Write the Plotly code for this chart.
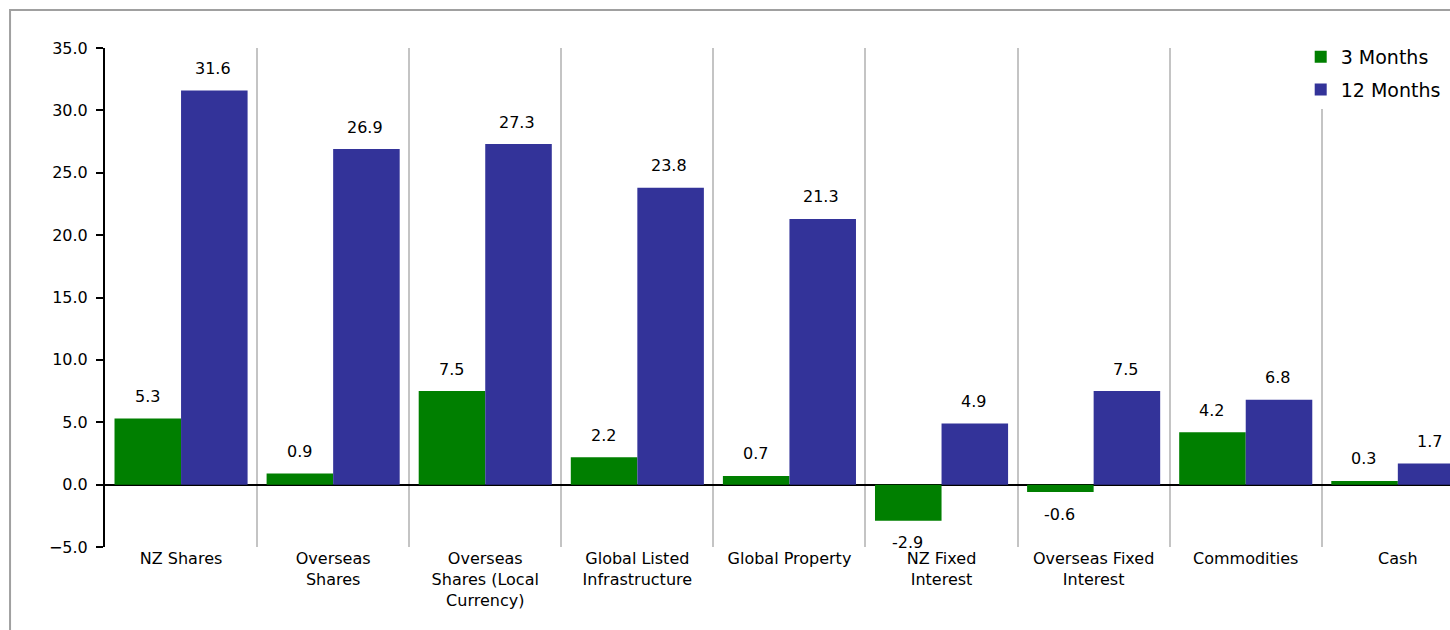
import plotly.graph_objects as go

categories = ["NZ Shares", "Overseas<br>Shares", "Overseas<br>Shares (Local<br>Currency)",
              "Global Listed<br>Infrastructure", "Global Property", "NZ Fixed<br>Interest",
              "Overseas Fixed<br>Interest", "Commodities", "Cash"]
three_months = [5.3, 0.9, 7.5, 2.2, 0.7, -2.9, -0.6, 4.2, 0.3]
twelve_months = [31.6, 26.9, 27.3, 23.8, 21.3, 4.9, 7.5, 6.8, 1.7]
series_names = ["3 Months", "12 Months"]
y_ticks = [-5, 0, 5, 10, 15, 20, 25, 30, 35]

GREEN = "#007F00"
BLUE = "#333399"
FONT = "DejaVu Sans, Liberation Sans, Arial, sans-serif"

fig = go.Figure()
fig.add_trace(go.Bar(x=categories, y=three_months, name=series_names[0], legendgroup="a",
                     marker=dict(color=GREEN, line=dict(width=0))))
fig.add_trace(go.Bar(x=categories, y=twelve_months, name=series_names[1], legendgroup="b",
                     marker=dict(color=BLUE, line=dict(width=0))))

annotations = []
for vals, shift in ((three_months, -34), (twelve_months, 32)):
    for c, v in zip(categories, vals):
        annotations.append(dict(x=c, y=v, xref="x", yref="y", text=f"{v:.1f}",
                                showarrow=False, xshift=shift,
                                yshift=22 if v >= 0 else -22,
                                font=dict(size=16, color="black", family=FONT)))

fig.update_layout(
    width=1450, height=630,
    margin=dict(l=105, r=0, t=48, b=83, autoexpand=False),
    paper_bgcolor="white", plot_bgcolor="white",
    barmode="group", bargap=0.125, bargroupgap=0,
    font=dict(family=FONT, size=16, color="black"),
    showlegend=True,
    legend=dict(x=0.889, y=1.020, xanchor="left", yanchor="top",
                bgcolor="white", font=dict(size=19, color="black", family=FONT),
                itemwidth=30, tracegroupgap=5, groupclick="toggleitem"),
    annotations=annotations,
    shapes=[dict(type="rect", xref="paper", yref="paper",
                 x0=-0.0706, x1=1.2, y0=-0.3, y1=1.076,
                 line=dict(color="#A0A0A0", width=2), fillcolor="rgba(0,0,0,0)",
                 layer="below")],
)
fig.update_xaxes(type="category", range=[-0.5, 8.343],
                 showgrid=True, gridcolor="#C4C4C4", gridwidth=2,
                 tickson="boundaries", ticks="", showline=False,
                 tickfont=dict(size=16, color="black", family=FONT),
                 zeroline=False, fixedrange=True)
fig.update_yaxes(range=[-5, 35], tickvals=y_ticks, tickformat=".1f",
                 showgrid=False, showline=True, linecolor="black", linewidth=2,
                 ticks="outside", ticklen=7, tickwidth=2, tickcolor="black",
                 ticklabelstandoff=5,
                 zeroline=True, zerolinecolor="black", zerolinewidth=2,
                 tickfont=dict(size=16, color="black", family=FONT))

fig.write_html("out.html", config={"displayModeBar": False},
               post_script="document.body.style.margin='0';document.body.style.overflow='hidden';")
